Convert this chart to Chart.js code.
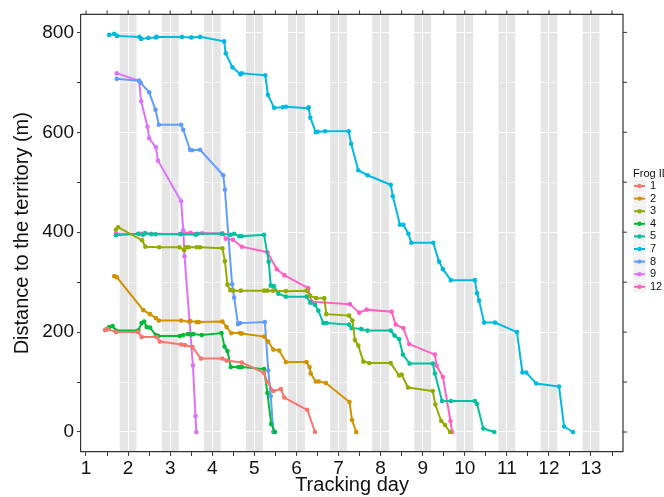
<!DOCTYPE html>
<html>
<head>
<meta charset="utf-8">
<script src="https://cdn.jsdelivr.net/npm/chart.js@4.4.1/dist/chart.umd.min.js"></script>
<style>
  html, body { margin: 0; padding: 0; background: #fff; }
  #wrap { width: 664px; height: 497px; }
</style>
</head>
<body>
<div id="wrap"><canvas id="frogChart"></canvas></div>
<script>
// frog IDs and tracks as [tracking day, distance to territory (m)]
const frogIds = ['1', '2', '3', '4', '5', '7', '8', '9', '12'];

const frog1 = [[1.45,204],[1.51,206],[1.71,200],[2.24,200],[2.32,190],[2.68,190],[2.75,181],[3.26,175],[3.35,174],[3.53,170],[3.73,147],[4.24,147],[4.34,143],[4.70,139],[5.22,119],[5.31,100],[5.45,82],[5.63,86],[5.71,69],[6.26,44],[6.44,0]];
const frog2 = [[1.67,312],[1.73,310],[2.36,244],[2.52,236],[2.66,228],[2.73,223],[3.26,223],[3.45,221],[3.48,222],[3.63,220],[3.68,220],[4.24,221],[4.34,210],[4.45,198],[4.66,198],[4.70,197],[5.23,191],[5.33,181],[5.45,165],[5.59,163],[5.75,140],[6.24,140],[6.31,130],[6.34,117],[6.46,101],[6.53,101],[6.70,98],[7.26,60],[7.32,24],[7.42,0]];
const frog3 = [[1.71,405],[1.76,410],[2.33,384],[2.41,371],[2.74,370],[3.22,370],[3.33,364],[3.37,370],[3.44,370],[3.63,370],[3.71,370],[4.24,368],[4.30,342],[4.36,295],[4.43,284],[4.50,283],[4.68,283],[5.23,283],[5.31,283],[5.44,283],[5.75,282],[6.24,283],[6.32,273],[6.47,268],[6.66,268],[6.71,236],[7.25,233],[7.33,223],[7.39,184],[7.47,173],[7.59,141],[7.73,138],[8.24,138],[8.44,113],[8.50,115],[8.65,89],[9.24,82],[9.30,55],[9.44,22],[9.53,14],[9.65,0]];
const frog4 = [[1.49,206],[1.55,210],[1.63,212],[1.71,203],[2.24,203],[2.32,218],[2.38,221],[2.44,210],[2.52,209],[2.66,194],[2.72,192],[3.23,192],[3.31,194],[3.42,196],[3.49,195],[3.55,196],[3.75,194],[4.22,198],[4.29,171],[4.36,162],[4.44,130],[4.62,130],[4.70,130],[5.23,126],[5.31,78],[5.40,16],[5.49,0]];
const frog5 = [[1.71,394],[2.24,397],[2.35,395],[2.40,398],[2.55,396],[2.65,396],[3.24,396],[3.61,395],[3.65,397],[4.22,397],[4.44,395],[4.52,397],[4.64,392],[4.70,392],[5.23,395],[5.34,341],[5.39,293],[5.46,292],[5.57,277],[5.75,271],[6.24,271],[6.33,259],[6.44,255],[6.52,243],[6.64,218],[6.72,218],[7.25,215],[7.31,208],[7.54,206],[7.69,203],[8.24,203],[8.33,193],[8.44,186],[8.53,155],[8.69,137],[9.24,137],[9.29,117],[9.46,62],[9.67,62],[10.24,62],[10.29,56],[10.44,7],[10.70,0]];
const frog7 = [[1.55,795],[1.67,797],[1.74,793],[2.27,791],[2.31,787],[2.48,789],[2.66,790],[2.68,791],[3.28,791],[3.50,790],[3.71,791],[4.28,782],[4.32,758],[4.48,730],[4.67,716],[4.70,718],[5.26,714],[5.32,675],[5.47,649],[5.67,650],[5.75,651],[6.28,648],[6.29,650],[6.33,629],[6.46,600],[6.50,601],[6.68,602],[7.24,602],[7.30,577],[7.47,524],[7.69,514],[8.24,495],[8.29,472],[8.46,415],[8.54,415],[8.66,397],[8.73,379],[9.25,379],[9.39,341],[9.48,326],[9.67,304],[10.24,304],[10.29,278],[10.34,263],[10.46,219],[10.72,219],[11.24,200],[11.37,119],[11.46,119],[11.70,97],[12.24,91],[12.36,11],[12.57,0]];
const frog8 = [[1.73,707],[2.26,703],[2.30,699],[2.50,680],[2.65,645],[2.73,615],[3.26,615],[3.31,605],[3.47,565],[3.52,564],[3.71,565],[4.26,514],[4.30,485],[4.47,296],[4.52,269],[4.61,216],[4.66,218],[5.25,220],[5.33,123],[5.39,72],[5.45,0]];
const frog9 = [[1.73,718],[2.26,703],[2.31,662],[2.46,611],[2.50,588],[2.66,570],[2.71,543],[3.26,462],[3.31,404],[3.34,352],[3.54,133],[3.60,32],[3.62,0]];
const frog12 = [[1.71,397],[2.26,397],[2.31,397],[2.40,398],[2.55,397],[3.24,397],[3.34,398],[3.48,399],[3.76,398],[4.24,398],[4.32,387],[4.49,385],[4.70,371],[5.31,360],[5.53,326],[5.71,314],[6.28,288],[6.36,261],[7.27,256],[7.49,239],[7.67,245],[8.26,241],[8.36,215],[8.54,208],[8.68,176],[9.29,155],[9.33,133],[9.48,110],[9.66,22],[9.70,0]];

const tracks = [frog1, frog2, frog3, frog4, frog5, frog7, frog8, frog9, frog12];

// night bands: from day n+0.8 to n+1.2
const bandStarts = [1.8, 2.8, 3.8, 4.8, 5.8, 6.8, 7.8, 8.8, 9.8, 10.8, 11.8, 12.8];
const bandWidth = 0.4;

const xTicks = [1, 2, 3, 4, 5, 6, 7, 8, 9, 10, 11, 12, 13];
const yTicks = [0, 200, 400, 600, 800];

const colors = ['#F8766D', '#D39200', '#93AA00', '#00BA38', '#00C19F', '#00B9E3', '#619CFF', '#DB72FB', '#FF61C3'];

const FONT = "'Liberation Sans', Arial, sans-serif";
const AXIS_COL = '#333333';

const bandPlugin = {
    id: 'bands',
    beforeDraw(chart) {
        const { ctx, chartArea, scales } = chart;
        ctx.save();
        ctx.fillStyle = '#e5e5e5';
        bandStarts.forEach(s => {
            const x1 = scales.x.getPixelForValue(s);
            const x2 = scales.x.getPixelForValue(s + bandWidth);
            ctx.fillRect(x1, chartArea.top, x2 - x1, chartArea.bottom - chartArea.top);
        });
        ctx.restore();
    },
    afterDraw(chart) {
        const { ctx, chartArea, scales } = chart;
        ctx.save();
        // panel border on top and right, with outward ticks
        ctx.strokeStyle = AXIS_COL;
        ctx.lineWidth = 1.2;
        ctx.beginPath();
        ctx.moveTo(chartArea.left, chartArea.top);
        ctx.lineTo(chartArea.right, chartArea.top);
        ctx.lineTo(chartArea.right, chartArea.bottom);
        ctx.stroke();
        ctx.lineWidth = 1;
        ctx.beginPath();
        for (let v = 1; v <= 13.5; v += 0.5) {
            const x = scales.x.getPixelForValue(v);
            ctx.moveTo(x, chartArea.top);
            ctx.lineTo(x, chartArea.top - 4);
        }
        for (let v = 0; v <= 800; v += 100) {
            const y = scales.y.getPixelForValue(v);
            ctx.moveTo(chartArea.right, y);
            ctx.lineTo(chartArea.right + 4, y);
        }
        ctx.stroke();

        // legend
        const lx = 633, ly = 174, step = 12.6;
        ctx.fillStyle = '#111';
        ctx.font = '11px ' + FONT;
        ctx.textBaseline = 'middle';
        ctx.textAlign = 'left';
        ctx.fillText('Frog ID', lx, ly);
        frogIds.forEach((id, i) => {
            const cy = ly + 12 + i * step;
            ctx.fillStyle = '#f2f2f2';
            ctx.fillRect(lx, cy - 6, 13, 12);
            ctx.strokeStyle = colors[i];
            ctx.lineWidth = 2;
            ctx.beginPath();
            ctx.moveTo(lx + 1, cy);
            ctx.lineTo(lx + 12, cy);
            ctx.stroke();
            ctx.fillStyle = colors[i];
            ctx.beginPath();
            ctx.arc(lx + 6.5, cy, 2.2, 0, Math.PI * 2);
            ctx.fill();
            ctx.fillStyle = '#111';
            ctx.fillText(id, lx + 17, cy);
        });
        ctx.restore();
    }
};

const ctx = document.getElementById('frogChart').getContext('2d');
new Chart(ctx, {
    type: 'line',
    data: {
        datasets: tracks.map((t, i) => ({
            label: frogIds[i],
            data: t.map(p => ({ x: p[0], y: p[1] })),
            borderColor: colors[i],
            backgroundColor: colors[i],
            borderWidth: 2,
            pointRadius: 2.3,
            pointBorderWidth: 0,
            pointBackgroundColor: colors[i],
            tension: 0,
            fill: false
        }))
    },
    plugins: [bandPlugin],
    options: {
        responsive: true,
        maintainAspectRatio: false,
        animation: false,
        layout: { padding: { left: 0, right: 41, top: 12, bottom: 0 } },
        plugins: {
            legend: { display: false },
            tooltip: { enabled: false }
        },
        scales: {
            x: {
                type: 'linear',
                min: 0.88,
                max: 13.76,
                afterBuildTicks: scale => {
                    const ticks = [];
                    for (let v = 1; v <= 13.5; v += 0.5) ticks.push({ value: v });
                    scale.ticks = ticks;
                },
                afterFit: scale => { scale.height = 45; },
                ticks: {
                    autoSkip: false,
                    maxRotation: 0,
                    padding: 1,
                    color: '#111',
                    font: { family: FONT, size: 19 },
                    callback: v => xTicks.includes(v) ? String(v) : ''
                },
                grid: {
                    color: '#ffffff',
                    lineWidth: c => Number.isInteger(c.tick && c.tick.value) ? 1.1 : 0.6,
                    drawTicks: true,
                    tickLength: 4,
                    tickColor: AXIS_COL,
                    tickWidth: 1
                },
                border: { display: true, color: AXIS_COL, width: 1.2 },
                title: {
                    display: true,
                    text: 'Tracking day',
                    color: '#111',
                    font: { family: FONT, size: 20 },
                    padding: { top: 0, bottom: 0 }
                }
            },
            y: {
                type: 'linear',
                min: -40,
                max: 836,
                afterBuildTicks: scale => {
                    const ticks = [];
                    for (let v = 0; v <= 800; v += 100) ticks.push({ value: v });
                    scale.ticks = ticks;
                },
                afterFit: scale => { scale.width = 81; },
                ticks: {
                    autoSkip: false,
                    padding: 3,
                    color: '#111',
                    font: { family: FONT, size: 19 },
                    callback: v => yTicks.includes(v) ? String(v) : ''
                },
                grid: {
                    color: '#ffffff',
                    lineWidth: c => (c.tick && c.tick.value % 200 === 0) ? 1.1 : 0.6,
                    drawTicks: true,
                    tickLength: 4,
                    tickColor: AXIS_COL,
                    tickWidth: 1
                },
                border: { display: true, color: AXIS_COL, width: 1.2 },
                title: {
                    display: true,
                    text: 'Distance to the territory (m)',
                    color: '#111',
                    font: { family: FONT, size: 20 },
                    padding: { top: 10, bottom: 0 }
                }
            }
        }
    }
});
</script>
</body>
</html>
